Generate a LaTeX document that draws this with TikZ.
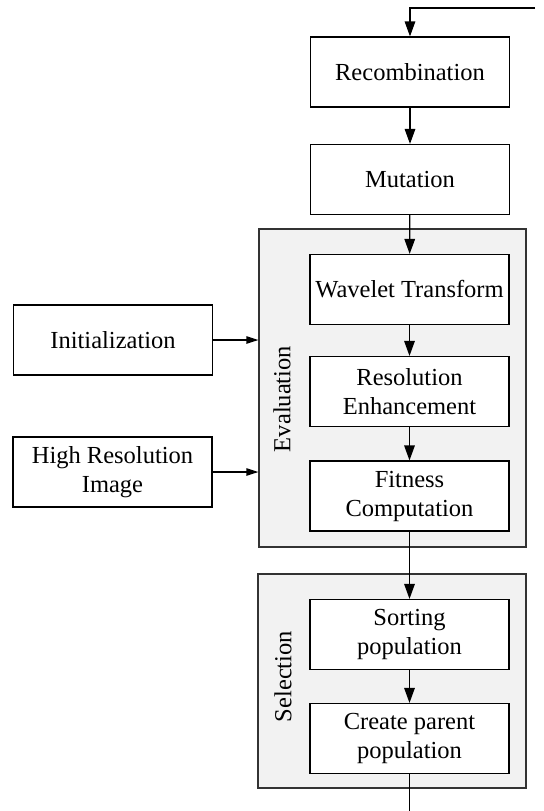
\documentclass[tikz,border=0pt]{standalone}
\usepackage{fontspec}
\setmainfont{Liberation Serif}
\newfontfamily\boxfont{Liberation Serif}
\usetikzlibrary{arrows.meta}

\begin{document}
\begin{tikzpicture}[x=0.5pt,y=-0.5pt,
block/.style={draw,line width=0.6pt,fill=white,minimum width=99.5pt,minimum height=35pt,
  inner sep=1pt,align=center,font=\boxfont\fontsize{12.25}{14.5}\selectfont},
panel/.style={draw=black!80,line width=0.6pt,fill=black!5,inner sep=0pt},
paneltext/.style={rotate=90,inner sep=0pt,font=\boxfont\fontsize{12.25}{14.5}\selectfont},
flow/.style={line width=0.6pt,-{Triangle[length=7.5pt,width=5.3pt]}},
feed/.style={line width=0.6pt,-{Triangle[length=6pt,width=3.7pt]}}]

\useasboundingbox (0,0) rectangle (544,811);

% panels
\node[panel,minimum width=133.5pt,minimum height=159pt] (eval) at (392.5,388) {};
\node[panel,minimum width=134pt,minimum height=107pt] (sel) at (392,681) {};
\node[paneltext] (evaltext) at (282,399) {Evaluation};
\node[paneltext] (seltext) at (283,676.5) {Selection};

% blocks
\node[block] (rec) at (410,72) {Recombination};
\node[block] (mut) at (410,179.5) {Mutation};
\node[block] (wav) at (409.5,289.5) {Wavelet Transform};
\node[block] (res) at (409.5,391.5) {Resolution\\Enhancement};
\node[block] (fit) at (409.5,496) {Fitness\\Computation};
\node[block] (sort) at (409.5,634.5) {Sorting\\population};
\node[block] (create) at (409.5,738.5) {Create parent\\population};
\node[block] (init) at (113,340) {Initialization};
\node[block] (hri) at (112.5,472) {High Resolution\\Image};

\coordinate (loopin) at (535,8);
\coordinate (loopout) at (409.5,811);

\draw [flow] (loopin) -| (rec);
\draw [flow] (rec) -- (mut);
\draw [flow] (mut) -- (wav);
\draw [flow] (wav) -- (res);
\draw [flow] (res) -- (fit);
\draw [flow] (fit) -- (sort);
\draw [flow] (sort) -- (create);
\draw [line width=0.6pt] (create) -- (loopout);
\draw [feed] (init) -- (init -| eval.west);
\draw [feed] (hri) -- (hri -| eval.west);
\end{tikzpicture}
\end{document}
